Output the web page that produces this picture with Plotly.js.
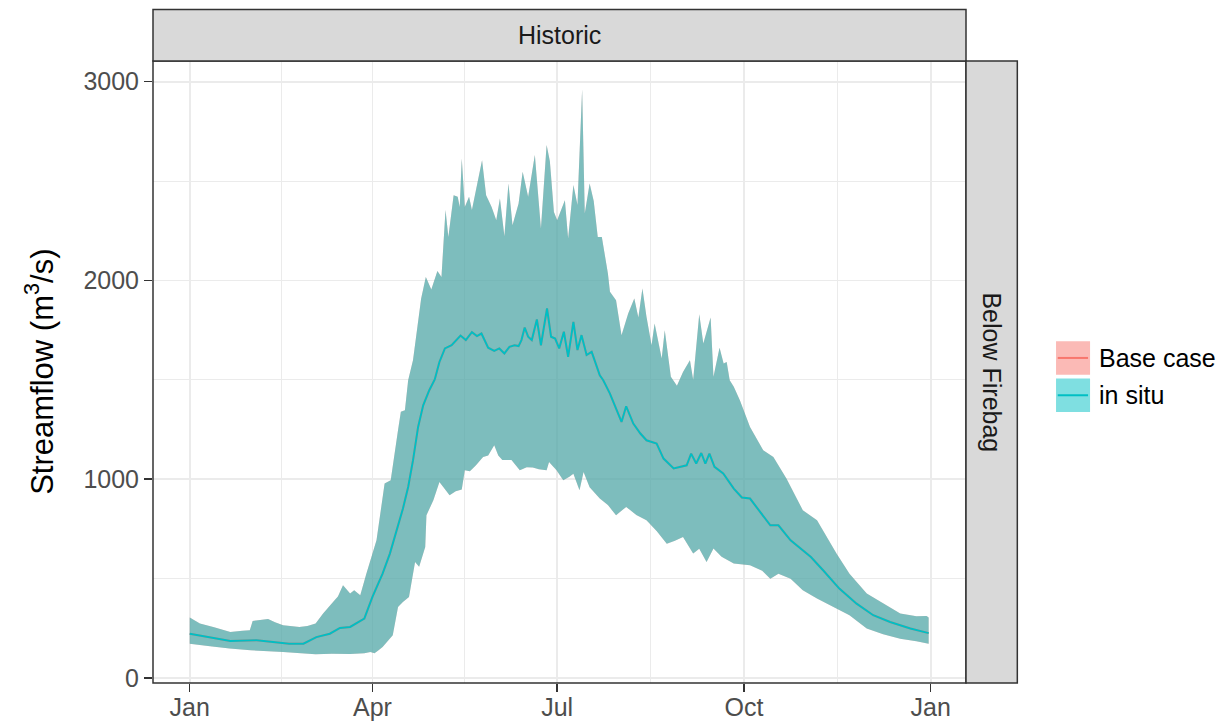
<!DOCTYPE html>
<html>
<head>
<meta charset="utf-8">
<script src="https://cdn.plot.ly/plotly-3.0.1.min.js"></script>
<style>html,body{margin:0;padding:0;background:#fff;}#chart{width:1231px;height:721px;}</style>
</head>
<body>
<div id="chart"></div>
<script>
// ---------- data (day of year, streamflow m3/s) ----------
const seriesNames = ["Base case", "in situ"];
const seriesLineColors = ["#F8766D", "#00BFC4"];
const seriesFillColors = ["rgba(248,118,109,0.5)", "rgba(0,191,196,0.5)"];
const facetColumn = "Historic";
const facetRow = "Below Firebag";
const monthTickDays = [0, 90, 181, 273, 365];
const monthTickLabels = ["Jan", "Apr", "Jul", "Oct", "Jan"];
const yTickVals = [0, 1000, 2000, 3000];

const upperDays = [0,5,12,20,26,29.6,31,35,38.6,42,46,54,58,62,65.7,70.6,73,75.5,79,81,84,87,92,96,99,102.6,104,106,107.6,110,111.4,114,116.3,119,122,124,126,127.4,130,132,133,134,135.5,137.6,139,142,144,146,148.7,151,152.8,155,157,159,162,164,166.7,170,173,175.8,177.4,179.4,181,184.8,186.4,189,191,193.3,194.6,197,199,201,203,206,207,210,212.7,216,219,221,223,225,227.5,229,232.5,234,237,240,243,246.4,248,251,253,256.6,258,261,263,264.5,266,268,271,276,282.5,287.5,294,302,309,318.6,325,333.5,341.6,350,358,363,364];
const upperVals = [304,274,255,232,238,240,287,292,297,280,265,257,262,274,324,382,410,467,425,441,416,525,693,978,995,1247,1339,1347,1498,1600,1716,1909,2018,1955,2048,2018,2354,2219,2429,2421,2370,2614,2370,2421,2354,2496,2605,2429,2370,2303,2412,2222,2488,2278,2387,2547,2421,2631,2262,2681,2600,2345,2303,2404,2211,2480,2379,2961,2337,2488,2400,2219,2219,2035,1943,1901,1725,1834,1909,1814,1960,1817,1674,1784,1607,1750,1515,1470,1540,1599,1500,1830,1683,1814,1515,1662,1582,1590,1498,1465,1398,1263,1146,1112,1003,844,794,626,525,425,374,324,311,312,305];

const lowerDays = [0,10,19.7,30,46,55,62,70,79,86,89,91,93,95,98,100,102.6,105,108,111,113,116,116.6,120,123,125,128,131,134,135.5,138,141,144.5,147,150,152,154,158.5,162.6,166,169,172,175.8,177,178.5,180.7,184,187,189,192,194,197,202,206,210,215,220,225,230,235,239,243,248,251,254.6,258,262,268,276,282,286,290,296,302,309,317,325,333.5,341.6,350,358,364];
const lowerVals = [173,160,148,140,131,125,119,122,121,125,131,125,140,156,190,215,357,383,408,584,560,659,819,894,986,960,919,940,948,1045,1040,1070,1112,1120,1171,1120,1097,1097,1045,1060,1059,1050,1045,1087,1070,1045,995,1012,1028,945,1037,960,903,870,819,861,820,794,740,676,690,710,626,650,584,651,610,576,567,540,500,525,500,441,400,357,316,249,220,198,185,173];

const medianDays = [0,10,20,33,42,49,56,62.4,69,74,79,86,90,95,98.6,102,105,107.6,110,112.5,115,118,120.7,123,125.7,129,131,133.4,136,139,141.5,143.7,147,150,152.5,155,157.5,160,162,163.4,165,166.7,168.5,171,173,176,178,180,182,184.3,186.4,189,191,193,195.5,198,202,203.7,207,212.7,215,218.5,222,225,230,233.4,238.4,242,244.8,247,249.5,252,254,256,258.5,262.8,268,272,276,286,290,296,302,306,312,320,328.5,336.7,345,355,364];
const medianVals = [223,203,186,190,180,173,173,206,223,252,257,299,408,525,626,743,852,961,1096,1263,1372,1448,1502,1590,1658,1674,1695,1723,1700,1740,1720,1733,1662,1646,1658,1633,1666,1674,1670,1700,1763,1717,1700,1804,1674,1859,1717,1708,1658,1742,1616,1792,1650,1725,1625,1641,1523,1498,1431,1288,1367,1280,1230,1196,1179,1104,1054,1065,1070,1129,1079,1132,1079,1129,1062,1029,953,908,903,768,768,693,643,609,542,450,374,316,282,249,226];

// ---------- layout geometry (pixels) ----------
const L = 153.3, R = 966, T = 61, B = 682.7;
const W = R - L, H = B - T;
const px = v => (v - L) / W;
const py = v => (B - v) / H;

const ribbonX = upperDays.concat(lowerDays.slice().reverse());
const ribbonY = upperVals.concat(lowerVals.slice().reverse());

const traces = [];
seriesNames.forEach((name, i) => {
  traces.push({
    x: ribbonX, y: ribbonY, type: "scatter", mode: "lines",
    fill: "toself", fillcolor: seriesFillColors[i],
    line: {width: 0}, hoverinfo: "skip", showlegend: false, name: name
  });
});
seriesNames.forEach((name, i) => {
  traces.push({
    x: medianDays, y: medianVals, type: "scatter", mode: "lines",
    line: {color: seriesLineColors[i], width: 2}, showlegend: false, name: name
  });
});

const font = "Liberation Sans, Arial, sans-serif";
const shapes = [
  {type: "rect", xref: "paper", yref: "paper", x0: 0, x1: 1, y0: 0, y1: 1,
   line: {color: "#333333", width: 1.5}, layer: "above"},
  {type: "rect", xref: "paper", yref: "paper", x0: 0, x1: 1, y0: py(T), y1: py(9.5),
   fillcolor: "#D9D9D9", line: {color: "#333333", width: 1.5}},
  {type: "rect", xref: "paper", yref: "paper", x0: px(R), x1: px(1017.3), y0: py(B), y1: py(T),
   fillcolor: "#D9D9D9", line: {color: "#333333", width: 1.5}}
];
const annotations = [
  {text: facetColumn, xref: "paper", yref: "paper", x: 0.5, y: py(35.5), showarrow: false,
   xanchor: "center", yanchor: "middle", font: {family: font, size: 25, color: "#1A1A1A"}},
  {text: facetRow, xref: "paper", yref: "paper", x: px(991.7), y: py(372), showarrow: false,
   textangle: 90, xanchor: "center", yanchor: "middle", font: {family: font, size: 25, color: "#1A1A1A"}},
  {text: "Streamflow (m<sup>3</sup>/s)", xref: "paper", yref: "paper", x: px(40), y: py(372),
   showarrow: false, textangle: -90, xanchor: "center", yanchor: "middle",
   font: {family: font, size: 31, color: "#000000"}}
];
const keyTops = [341, 378.3];
seriesNames.forEach((name, i) => {
  const t = keyTops[i];
  shapes.push({type: "rect", xref: "paper", yref: "paper", x0: px(1056), x1: px(1090),
    y0: py(t + 33.5), y1: py(t), fillcolor: seriesFillColors[i], line: {width: 0}});
  shapes.push({type: "line", xref: "paper", yref: "paper", x0: px(1057.7), x1: px(1088),
    y0: py(t + 16.8), y1: py(t + 16.8), line: {color: seriesLineColors[i], width: 2}});
  annotations.push({text: name, xref: "paper", yref: "paper", x: px(1097), y: py(t + 17),
    showarrow: false, xanchor: "left", yanchor: "middle",
    font: {family: font, size: 25, color: "#000000"}});
});

const layout = {
  width: 1231, height: 721,
  margin: {l: L, r: 1231 - R, t: T, b: 721 - B, pad: 0},
  paper_bgcolor: "#ffffff", plot_bgcolor: "#ffffff",
  showlegend: false,
  font: {family: font},
  xaxis: {
    range: [-18.1, 382.4], tickmode: "array", tickvals: monthTickDays, ticktext: monthTickLabels,
    ticks: "outside", ticklen: 8, tickwidth: 1.5, tickcolor: "#333333", ticklabelstandoff: -6,
    showgrid: true, gridcolor: "#EBEBEB", gridwidth: 1.8, zeroline: false, showline: false,
    tickfont: {family: font, size: 25, color: "#4D4D4D"},
    minor: {tickmode: "array", tickvals: [45, 135.5, 227, 319], showgrid: true, gridcolor: "#EBEBEB", gridwidth: 1, ticklen: 0}
  },
  yaxis: {
    range: [-25, 3104], tickmode: "array", tickvals: yTickVals, ticktext: yTickVals.map(String),
    ticks: "outside", ticklen: 8, tickwidth: 1.5, tickcolor: "#333333",
    showgrid: true, gridcolor: "#EBEBEB", gridwidth: 1.8, zeroline: false, showline: false,
    tickfont: {family: font, size: 25, color: "#4D4D4D"},
    minor: {tickmode: "array", tickvals: [500, 1500, 2500], showgrid: true, gridcolor: "#EBEBEB", gridwidth: 1, ticklen: 0}
  },
  shapes: shapes,
  annotations: annotations
};

Plotly.newPlot("chart", traces, layout, {displayModeBar: false, staticPlot: true});
</script>
</body>
</html>
